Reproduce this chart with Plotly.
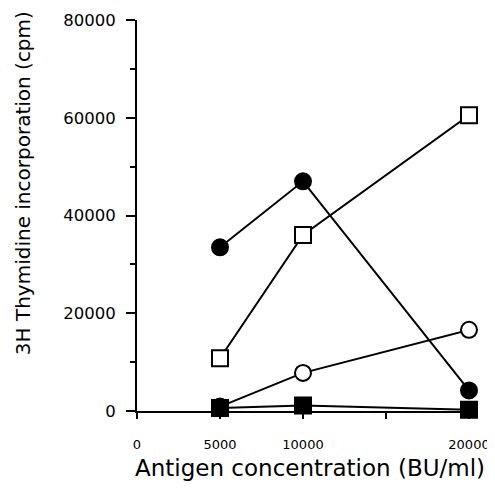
import plotly.graph_objects as go

# Data
antigen = [5000, 10000, 20000]
filled_circle = [33500, 47000, 4200]
open_square = [10800, 36000, 60500]
open_circle = [900, 7800, 16600]
filled_square = [600, 1100, 250]

x_tickvals = [0, 5000, 10000, 15000, 20000]
x_ticktext = ["0", "5000", "10000", "", "20000"]
y_tickvals = [0, 20000, 40000, 60000, 80000]
y_ticktext = ["0", "20000", "40000", "60000", "80000"]

fig = go.Figure()

def add(y, symbol, fill):
    fig.add_trace(go.Scatter(
        x=antigen, y=y, mode="lines+markers",
        line=dict(color="black", width=2),
        marker=dict(symbol=symbol, size=16, color=fill,
                    line=dict(color="black", width=2)),
        cliponaxis=False, showlegend=False))

add(open_circle, "circle", "white")
add(open_square, "square", "white")
add(filled_circle, "circle", "black")
add(filled_square, "square", "black")

tickfont_x = dict(family="DejaVu Sans", size=13, color="black")
tickfont_y = dict(family="DejaVu Sans", size=16.5, color="black")

fig.update_xaxes(
    range=[0, 20000], tickvals=x_tickvals, ticktext=x_ticktext,
    showline=True, linecolor="black", linewidth=2,
    ticks="outside", ticklen=6, tickwidth=2, tickcolor="black",
    tickfont=tickfont_x, ticklabelstandoff=14, automargin=False,
    showgrid=False, zeroline=False)
fig.update_yaxes(
    range=[0, 80000], tickvals=y_tickvals, ticktext=y_ticktext,
    showline=True, linecolor="black", linewidth=2,
    ticks="outside", ticklen=9, tickwidth=2, tickcolor="black",
    minor=dict(dtick=10000, tick0=0, ticks="outside", ticklen=5,
               tickwidth=2, tickcolor="black"),
    tickfont=tickfont_y, ticklabelstandoff=7, automargin=False,
    showgrid=False, zeroline=False)

fig.add_annotation(text="Antigen concentration (BU/ml)", xref="paper", yref="paper",
                   x=0.521, y=-0.146, showarrow=False, xanchor="center", yanchor="middle",
                   font=dict(family="DejaVu Sans", size=23, color="black"))
fig.add_annotation(text="3H Thymidine incorporation (cpm)", xref="paper", yref="paper",
                   x=-0.343, y=0.583, showarrow=False, textangle=-90,
                   xanchor="center", yanchor="middle",
                   font=dict(family="DejaVu Sans", size=20, color="black"))

# page body has an 8px margin, so the figure is 487x487 drawn at (8, 8)
fig.update_layout(
    width=487, height=487,
    margin=dict(l=129, r=26, t=12, b=84),
    paper_bgcolor="white", plot_bgcolor="white")

fig.write_html("out.html")
